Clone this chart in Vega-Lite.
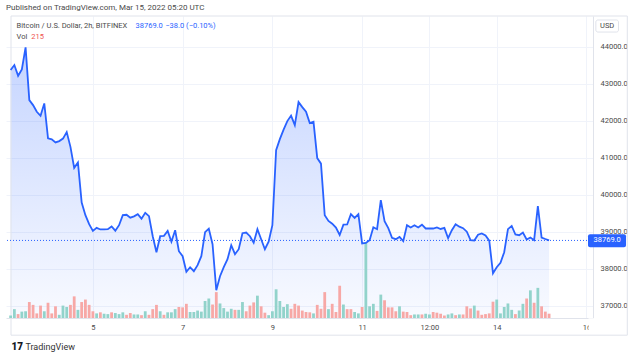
{
"$schema": "https://vega.github.io/schema/vega-lite/v6.json",
"width": 587, "height": 302,
"autosize": "none",
"padding": {"left": 6, "top": 16, "right": 47, "bottom": 40},
"background": "white",
"config": {"font": "Roboto", "view": {"stroke": null}},
"title": {"text": "Published on TradingView.com, Mar 15, 2022 05:20 UTC", "anchor": "start", "frame": "group", "fontSize": 8, "fontWeight": "normal", "color": "#4a4a4a", "offset": 4},
"datasets": {"btc": [
{"time":"2022-03-03T04:00Z","price":43370,"volume":124,"dir":"up"},
{"time":"2022-03-03T06:00Z","price":43505,"volume":443,"dir":"up"},
{"time":"2022-03-03T08:00Z","price":43216,"volume":195,"dir":"down"},
{"time":"2022-03-03T10:00Z","price":43389,"volume":319,"dir":"up"},
{"time":"2022-03-03T12:00Z","price":43984,"volume":337,"dir":"up"},
{"time":"2022-03-03T14:00Z","price":42559,"volume":798,"dir":"down"},
{"time":"2022-03-03T16:00Z","price":42424,"volume":656,"dir":"down"},
{"time":"2022-03-03T18:00Z","price":42243,"volume":230,"dir":"down"},
{"time":"2022-03-03T20:00Z","price":42135,"volume":620,"dir":"down"},
{"time":"2022-03-03T22:00Z","price":42470,"volume":337,"dir":"up"},
{"time":"2022-03-04T00:00Z","price":41524,"volume":762,"dir":"down"},
{"time":"2022-03-04T02:00Z","price":41497,"volume":230,"dir":"down"},
{"time":"2022-03-04T04:00Z","price":41416,"volume":585,"dir":"down"},
{"time":"2022-03-04T06:00Z","price":41451,"volume":160,"dir":"up"},
{"time":"2022-03-04T08:00Z","price":41519,"volume":620,"dir":"up"},
{"time":"2022-03-04T10:00Z","price":41694,"volume":550,"dir":"up"},
{"time":"2022-03-04T12:00Z","price":41297,"volume":656,"dir":"down"},
{"time":"2022-03-04T14:00Z","price":40729,"volume":1082,"dir":"down"},
{"time":"2022-03-04T16:00Z","price":40875,"volume":408,"dir":"up"},
{"time":"2022-03-04T18:00Z","price":39794,"volume":798,"dir":"down"},
{"time":"2022-03-04T20:00Z","price":39451,"volume":922,"dir":"down"},
{"time":"2022-03-04T22:00Z","price":39208,"volume":656,"dir":"down"},
{"time":"2022-03-05T00:00Z","price":39027,"volume":337,"dir":"down"},
{"time":"2022-03-05T02:00Z","price":39108,"volume":230,"dir":"up"},
{"time":"2022-03-05T04:00Z","price":39065,"volume":284,"dir":"down"},
{"time":"2022-03-05T06:00Z","price":39067,"volume":213,"dir":"up"},
{"time":"2022-03-05T08:00Z","price":39073,"volume":195,"dir":"up"},
{"time":"2022-03-05T10:00Z","price":39145,"volume":284,"dir":"down"},
{"time":"2022-03-05T12:00Z","price":39032,"volume":248,"dir":"up"},
{"time":"2022-03-05T14:00Z","price":39180,"volume":195,"dir":"up"},
{"time":"2022-03-05T16:00Z","price":39451,"volume":284,"dir":"up"},
{"time":"2022-03-05T18:00Z","price":39462,"volume":160,"dir":"down"},
{"time":"2022-03-05T20:00Z","price":39383,"volume":248,"dir":"down"},
{"time":"2022-03-05T22:00Z","price":39418,"volume":177,"dir":"up"},
{"time":"2022-03-06T00:00Z","price":39478,"volume":177,"dir":"up"},
{"time":"2022-03-06T02:00Z","price":39356,"volume":142,"dir":"down"},
{"time":"2022-03-06T04:00Z","price":39513,"volume":337,"dir":"up"},
{"time":"2022-03-06T06:00Z","price":39424,"volume":160,"dir":"down"},
{"time":"2022-03-06T08:00Z","price":38883,"volume":443,"dir":"down"},
{"time":"2022-03-06T10:00Z","price":38451,"volume":656,"dir":"down"},
{"time":"2022-03-06T12:00Z","price":38883,"volume":337,"dir":"up"},
{"time":"2022-03-06T14:00Z","price":38891,"volume":160,"dir":"down"},
{"time":"2022-03-06T16:00Z","price":39024,"volume":284,"dir":"up"},
{"time":"2022-03-06T18:00Z","price":38735,"volume":284,"dir":"up"},
{"time":"2022-03-06T20:00Z","price":39045,"volume":443,"dir":"up"},
{"time":"2022-03-06T22:00Z","price":38478,"volume":550,"dir":"down"},
{"time":"2022-03-07T00:00Z","price":38343,"volume":532,"dir":"down"},
{"time":"2022-03-07T02:00Z","price":37924,"volume":709,"dir":"down"},
{"time":"2022-03-07T04:00Z","price":38045,"volume":301,"dir":"up"},
{"time":"2022-03-07T06:00Z","price":37937,"volume":301,"dir":"up"},
{"time":"2022-03-07T08:00Z","price":38100,"volume":372,"dir":"up"},
{"time":"2022-03-07T10:00Z","price":38343,"volume":319,"dir":"up"},
{"time":"2022-03-07T12:00Z","price":38991,"volume":851,"dir":"up"},
{"time":"2022-03-07T14:00Z","price":39086,"volume":975,"dir":"up"},
{"time":"2022-03-07T16:00Z","price":38667,"volume":674,"dir":"down"},
{"time":"2022-03-07T18:00Z","price":37424,"volume":1294,"dir":"down"},
{"time":"2022-03-07T20:00Z","price":37802,"volume":727,"dir":"up"},
{"time":"2022-03-07T22:00Z","price":38045,"volume":496,"dir":"up"},
{"time":"2022-03-08T00:00Z","price":38262,"volume":319,"dir":"up"},
{"time":"2022-03-08T02:00Z","price":38640,"volume":461,"dir":"up"},
{"time":"2022-03-08T04:00Z","price":38397,"volume":408,"dir":"down"},
{"time":"2022-03-08T06:00Z","price":38532,"volume":408,"dir":"up"},
{"time":"2022-03-08T08:00Z","price":38964,"volume":798,"dir":"up"},
{"time":"2022-03-08T10:00Z","price":38983,"volume":337,"dir":"down"},
{"time":"2022-03-08T12:00Z","price":38883,"volume":620,"dir":"down"},
{"time":"2022-03-08T14:00Z","price":38708,"volume":780,"dir":"down"},
{"time":"2022-03-08T16:00Z","price":39072,"volume":1117,"dir":"up"},
{"time":"2022-03-08T18:00Z","price":38802,"volume":585,"dir":"down"},
{"time":"2022-03-08T20:00Z","price":38532,"volume":266,"dir":"down"},
{"time":"2022-03-08T22:00Z","price":38735,"volume":142,"dir":"up"},
{"time":"2022-03-09T00:00Z","price":39180,"volume":337,"dir":"up"},
{"time":"2022-03-09T02:00Z","price":41207,"volume":1436,"dir":"up"},
{"time":"2022-03-09T04:00Z","price":41505,"volume":851,"dir":"up"},
{"time":"2022-03-09T06:00Z","price":41762,"volume":550,"dir":"up"},
{"time":"2022-03-09T08:00Z","price":41992,"volume":691,"dir":"up"},
{"time":"2022-03-09T10:00Z","price":42140,"volume":461,"dir":"down"},
{"time":"2022-03-09T12:00Z","price":41884,"volume":709,"dir":"down"},
{"time":"2022-03-09T14:00Z","price":42505,"volume":620,"dir":"down"},
{"time":"2022-03-09T16:00Z","price":42370,"volume":372,"dir":"down"},
{"time":"2022-03-09T18:00Z","price":42248,"volume":301,"dir":"down"},
{"time":"2022-03-09T20:00Z","price":41938,"volume":284,"dir":"down"},
{"time":"2022-03-09T22:00Z","price":41973,"volume":230,"dir":"up"},
{"time":"2022-03-10T00:00Z","price":40992,"volume":656,"dir":"down"},
{"time":"2022-03-10T02:00Z","price":40843,"volume":461,"dir":"down"},
{"time":"2022-03-10T04:00Z","price":39451,"volume":1294,"dir":"down"},
{"time":"2022-03-10T06:00Z","price":39297,"volume":443,"dir":"up"},
{"time":"2022-03-10T08:00Z","price":39221,"volume":709,"dir":"down"},
{"time":"2022-03-10T10:00Z","price":39118,"volume":301,"dir":"down"},
{"time":"2022-03-10T12:00Z","price":38916,"volume":1613,"dir":"down"},
{"time":"2022-03-10T14:00Z","price":39194,"volume":674,"dir":"up"},
{"time":"2022-03-10T16:00Z","price":39200,"volume":443,"dir":"down"},
{"time":"2022-03-10T18:00Z","price":39478,"volume":443,"dir":"down"},
{"time":"2022-03-10T20:00Z","price":39378,"volume":301,"dir":"up"},
{"time":"2022-03-10T22:00Z","price":39478,"volume":230,"dir":"up"},
{"time":"2022-03-11T00:00Z","price":38688,"volume":550,"dir":"down"},
{"time":"2022-03-11T02:00Z","price":38702,"volume":3800,"dir":"up"},
{"time":"2022-03-11T04:00Z","price":38775,"volume":585,"dir":"up"},
{"time":"2022-03-11T06:00Z","price":39126,"volume":709,"dir":"up"},
{"time":"2022-03-11T08:00Z","price":39072,"volume":355,"dir":"down"},
{"time":"2022-03-11T10:00Z","price":39856,"volume":1170,"dir":"up"},
{"time":"2022-03-11T12:00Z","price":39289,"volume":887,"dir":"down"},
{"time":"2022-03-11T14:00Z","price":39100,"volume":532,"dir":"down"},
{"time":"2022-03-11T16:00Z","price":38837,"volume":532,"dir":"down"},
{"time":"2022-03-11T18:00Z","price":38802,"volume":337,"dir":"down"},
{"time":"2022-03-11T20:00Z","price":38864,"volume":585,"dir":"up"},
{"time":"2022-03-11T22:00Z","price":38748,"volume":319,"dir":"down"},
{"time":"2022-03-12T00:00Z","price":39180,"volume":301,"dir":"down"},
{"time":"2022-03-12T02:00Z","price":39118,"volume":142,"dir":"down"},
{"time":"2022-03-12T04:00Z","price":39180,"volume":177,"dir":"up"},
{"time":"2022-03-12T06:00Z","price":39118,"volume":177,"dir":"up"},
{"time":"2022-03-12T08:00Z","price":39194,"volume":177,"dir":"down"},
{"time":"2022-03-12T10:00Z","price":39091,"volume":213,"dir":"up"},
{"time":"2022-03-12T12:00Z","price":39091,"volume":177,"dir":"up"},
{"time":"2022-03-12T14:00Z","price":39091,"volume":301,"dir":"down"},
{"time":"2022-03-12T16:00Z","price":39118,"volume":266,"dir":"down"},
{"time":"2022-03-12T18:00Z","price":39078,"volume":213,"dir":"down"},
{"time":"2022-03-12T20:00Z","price":39108,"volume":124,"dir":"down"},
{"time":"2022-03-12T22:00Z","price":38829,"volume":177,"dir":"up"},
{"time":"2022-03-13T00:00Z","price":39045,"volume":230,"dir":"up"},
{"time":"2022-03-13T02:00Z","price":39208,"volume":142,"dir":"down"},
{"time":"2022-03-13T04:00Z","price":39140,"volume":177,"dir":"up"},
{"time":"2022-03-13T06:00Z","price":39100,"volume":177,"dir":"down"},
{"time":"2022-03-13T08:00Z","price":39005,"volume":585,"dir":"down"},
{"time":"2022-03-13T10:00Z","price":38775,"volume":479,"dir":"down"},
{"time":"2022-03-13T12:00Z","price":38767,"volume":620,"dir":"up"},
{"time":"2022-03-13T14:00Z","price":38924,"volume":372,"dir":"down"},
{"time":"2022-03-13T16:00Z","price":38956,"volume":160,"dir":"down"},
{"time":"2022-03-13T18:00Z","price":38902,"volume":195,"dir":"down"},
{"time":"2022-03-13T20:00Z","price":38762,"volume":230,"dir":"down"},
{"time":"2022-03-13T22:00Z","price":37883,"volume":816,"dir":"down"},
{"time":"2022-03-14T00:00Z","price":38045,"volume":922,"dir":"up"},
{"time":"2022-03-14T02:00Z","price":38167,"volume":230,"dir":"up"},
{"time":"2022-03-14T04:00Z","price":38451,"volume":550,"dir":"up"},
{"time":"2022-03-14T06:00Z","price":39073,"volume":727,"dir":"up"},
{"time":"2022-03-14T08:00Z","price":39162,"volume":408,"dir":"up"},
{"time":"2022-03-14T10:00Z","price":38929,"volume":195,"dir":"down"},
{"time":"2022-03-14T12:00Z","price":38910,"volume":372,"dir":"up"},
{"time":"2022-03-14T14:00Z","price":38983,"volume":709,"dir":"up"},
{"time":"2022-03-14T16:00Z","price":38794,"volume":975,"dir":"down"},
{"time":"2022-03-14T18:00Z","price":38848,"volume":1383,"dir":"up"},
{"time":"2022-03-14T20:00Z","price":38775,"volume":762,"dir":"down"},
{"time":"2022-03-14T22:00Z","price":39694,"volume":1507,"dir":"up"},
{"time":"2022-03-15T00:00Z","price":38848,"volume":585,"dir":"down"},
{"time":"2022-03-15T02:00Z","price":38807,"volume":319,"dir":"down"},
{"time":"2022-03-15T04:00Z","price":38769,"volume":215,"dir":"down"}
], "one": [{}]},
"layer": [
  {
    "layer": [
      {"data": {"name": "btc"},
       "mark": {"type": "area", "clip": true,
        "fill": {"gradient": "linear", "x1": 0, "y1": 0, "x2": 0, "y2": 1,
          "stops": [{"offset": 0, "color": "rgba(41,98,255,0.27)"}, {"offset": 1, "color": "rgba(41,98,255,0.03)"}]}},
       "encoding": {
        "x": {"field": "time", "type": "temporal",
          "scale": {"type": "utc", "nice": false, "domain": [1646280720000, 1647391740000]},
          "axis": {"title": null,
            "values": [{"year":2022,"month":3,"date":5,"utc":true},{"year":2022,"month":3,"date":7,"utc":true},{"year":2022,"month":3,"date":9,"utc":true},{"year":2022,"month":3,"date":11,"utc":true},{"year":2022,"month":3,"date":12,"hours":12,"utc":true},{"year":2022,"month":3,"date":14,"utc":true},{"year":2022,"month":3,"date":16,"utc":true}],
            "labelExpr": "utcFormat(datum.value, '%H') == '12' ? '12:00' : utcFormat(datum.value, '%-d')",
            "grid": true, "gridColor": "#f0f3fa", "domain": true, "domainColor": "#e0e3eb",
            "ticks": false, "tickSize": 0, "labelPadding": 5, "labelFontSize": 7.5, "labelColor": "#4a4a4a",
            "labelFlush": false, "labelOverlap": false, "labelBound": false}},
        "y": {"field": "price", "type": "quantitative",
          "scale": {"domain": [36674, 44830], "nice": false, "zero": false},
          "axis": {"orient": "right", "title": null, "values": [37000,38000,39000,40000,41000,42000,43000,44000], "format": ".1f",
            "grid": true, "gridColor": "#f0f3fa", "domain": true, "domainColor": "#e0e3eb", "ticks": false, "tickSize": 0,
            "labelPadding": 7, "labelAlign": "left", "labelBaseline": "middle", "labelFontSize": 7.5, "labelColor": "#4a4a4a"}},
        "y2": {"datum": 36674}}},
      {"data": {"name": "one"}, "mark": {"type": "rect", "color": "white", "clip": false},
       "encoding": {"x": {"datum": 1647392700000, "type": "temporal"}, "x2": {"datum": 1647464400000},
         "y": {"datum": 36670, "type": "quantitative"}, "y2": {"datum": 36240}}},
      {"data": {"name": "one"}, "mark": {"type": "rect", "filled": false, "stroke": "#e0e3eb", "strokeWidth": 1, "clip": false},
       "encoding": {"x": {"datum": 1646280720000, "type": "temporal"}, "x2": {"datum": 1647467400000},
         "y": {"datum": 44830, "type": "quantitative"}, "y2": {"datum": 36210}}},
      {"data": {"name": "one"}, "mark": {"type": "text", "text": "Bitcoin / U.S. Dollar, 2h, BITFINEX", "align": "left", "baseline": "middle", "fontSize": 7.5, "color": "#4a4a4a", "clip": false},
       "encoding": {"x": {"datum": 1646291520000, "type": "temporal"}, "y": {"datum": 44560, "type": "quantitative"}}},
      {"data": {"name": "one"}, "mark": {"type": "text", "text": "38769.0", "align": "left", "baseline": "middle", "fontSize": 7.5, "color": "#2962ff", "clip": false},
       "encoding": {"x": {"datum": 1646520540000, "type": "temporal"}, "y": {"datum": 44560, "type": "quantitative"}}},
      {"data": {"name": "one"}, "mark": {"type": "text", "text": "−38.0 (−0.10%)", "align": "left", "baseline": "middle", "fontSize": 7.5, "color": "#2962ff", "clip": false},
       "encoding": {"x": {"datum": 1646577840000, "type": "temporal"}, "y": {"datum": 44560, "type": "quantitative"}}},
      {"data": {"name": "one"}, "mark": {"type": "text", "text": "Vol", "align": "left", "baseline": "middle", "fontSize": 7.5, "color": "#4a4a4a", "clip": false},
       "encoding": {"x": {"datum": 1646291520000, "type": "temporal"}, "y": {"datum": 44262, "type": "quantitative"}}},
      {"data": {"name": "one"}, "mark": {"type": "text", "text": "215", "align": "left", "baseline": "middle", "fontSize": 7.5, "color": "#ef5350", "clip": false},
       "encoding": {"x": {"datum": 1646319900000, "type": "temporal"}, "y": {"datum": 44262, "type": "quantitative"}}},
      {"data": {"name": "one"}, "mark": {"type": "rect", "fill": "white", "stroke": "#e0e3eb", "strokeWidth": 1, "cornerRadius": 2, "clip": false},
       "encoding": {"x": {"datum": 1647406860000, "type": "temporal"}, "x2": {"datum": 1647450420000},
         "y": {"datum": 44722, "type": "quantitative"}, "y2": {"datum": 44397}}},
      {"data": {"name": "one"}, "mark": {"type": "text", "text": "USD", "align": "center", "baseline": "middle", "fontSize": 7.5, "color": "#4a4a4a", "clip": false},
       "encoding": {"x": {"datum": 1647428640000, "type": "temporal"}, "y": {"datum": 44560, "type": "quantitative"}}},
      {"data": {"name": "one"}, "mark": {"type": "text", "text": "17", "align": "center", "baseline": "middle", "fontSize": 10, "fontWeight": 900, "color": "#131722", "clip": false},
       "encoding": {"x": {"datum": 1646292820000, "type": "temporal"}, "y": {"datum": 35886, "type": "quantitative"}}},
      {"data": {"name": "one"}, "mark": {"type": "text", "text": "TradingView", "align": "left", "baseline": "middle", "fontSize": 9, "color": "#333333", "clip": false},
       "encoding": {"x": {"datum": 1646308560000, "type": "temporal"}, "y": {"datum": 35886, "type": "quantitative"}}}
    ]
  },
  {
    "data": {"name": "btc"},
    "mark": {"type": "bar", "size": 2.8, "clip": true},
    "encoding": {
      "x": {"field": "time", "type": "temporal"},
      "y": {"field": "volume", "type": "quantitative", "scale": {"domain": [0, 15100], "nice": false}, "axis": null},
      "color": {"field": "dir", "type": "nominal", "scale": {"domain": ["up", "down"], "range": ["#92d3cb", "#f7a8a6"]}, "legend": null}
    }
  },
  {
    "layer": [
      {"data": {"name": "btc"}, "mark": {"type": "line", "color": "#2962ff", "strokeWidth": 1.8, "clip": true},
       "encoding": {"x": {"field": "time", "type": "temporal"},
         "y": {"field": "price", "type": "quantitative", "scale": {"domain": [36674, 44830], "nice": false, "zero": false}, "axis": null}}},
      {"data": {"name": "one"}, "mark": {"type": "rule", "color": "#2962ff", "strokeWidth": 1, "strokeDash": [1, 2]},
       "encoding": {"y": {"datum": 38769, "type": "quantitative", "axis": null}}},
      {"data": {"name": "one"}, "mark": {"type": "rect", "color": "#2962ff", "cornerRadius": 2, "clip": false},
       "encoding": {"x": {"datum": 1647391740000, "type": "temporal"}, "x2": {"datum": 1647464940000},
         "y": {"datum": 38937, "type": "quantitative", "axis": null}, "y2": {"datum": 38586}}},
      {"data": {"name": "one"}, "mark": {"type": "text", "text": "38769.0", "align": "center", "baseline": "middle", "fontSize": 7.5, "color": "white", "clip": false},
       "encoding": {"x": {"datum": 1647428640000, "type": "temporal"}, "y": {"datum": 38769, "type": "quantitative", "axis": null}}}
    ]
  }
],
"resolve": {"scale": {"y": "independent"}, "axis": {"y": "independent"}}
}
